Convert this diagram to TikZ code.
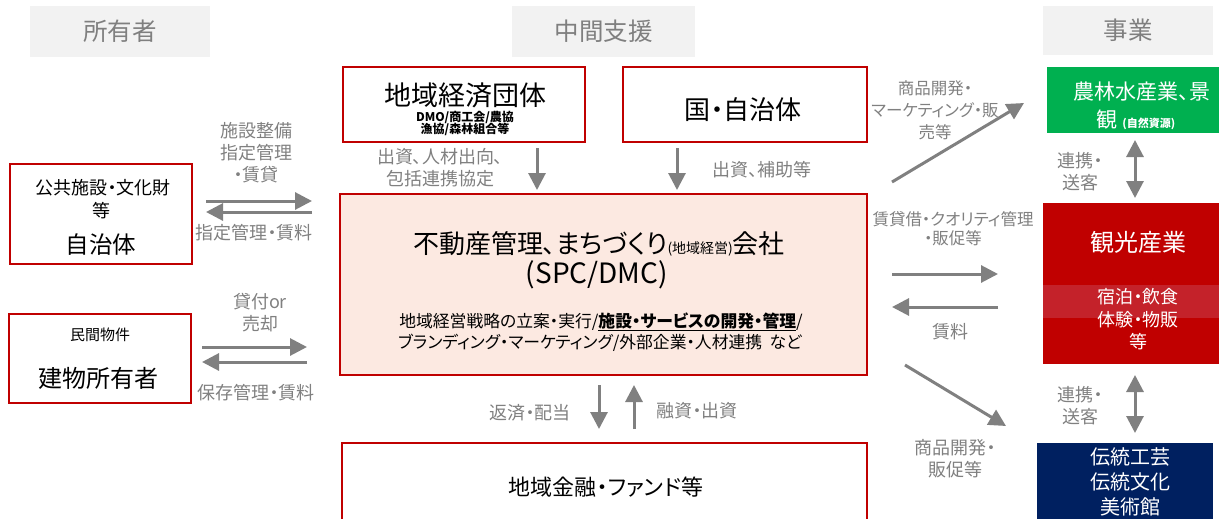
\documentclass[tikz,border=0pt]{standalone}
\usepackage{fontspec}
\setmainfont{Noto Sans CJK JP}[RawFeature=+palt]
\usetikzlibrary{arrows.meta}
\definecolor{hdrbg}{HTML}{F2F2F2}
\definecolor{hdrtx}{HTML}{7F7F7F}
\definecolor{bred}{HTML}{C00000}
\definecolor{agray}{HTML}{808080}
\definecolor{pinkfill}{HTML}{FCE9E1}
\definecolor{dgreen}{HTML}{00B050}
\definecolor{bandred}{RGB}{196,34,42}
\definecolor{navyblue}{HTML}{002060}
\newcommand\fsz[2]{\fontsize{#1}{#2}\selectfont}
\tikzset{
  hdr/.style={fill=hdrbg, text=hdrtx, font=\fsz{24.5}{28}, inner sep=0pt},
  rbox/.style={draw=bred, line width=1.8pt, fill=white, inner sep=0pt},
  txt/.style={inner sep=0pt, align=center, text=black},
  wtxt/.style={inner sep=0pt, align=center, text=white},
  lbl/.style={text=agray, font=\fsz{18}{22}, align=center, inner sep=0pt},
  arr/.style={draw=agray, line width=3pt, -{Triangle[length=17pt,width=17pt]}},
  dbl/.style={draw=agray, line width=3pt, {Triangle[length=17pt,width=17pt]}-{Triangle[length=17pt,width=17pt]}}
}
\begin{document}
\begin{tikzpicture}[x=1pt,y=-1pt]
\useasboundingbox (0,0) rectangle (1219,519);
% headers
\node[hdr, minimum width=180pt, minimum height=51pt] (h1) at (120,31.5) {所有者};
\node[hdr, minimum width=183pt, minimum height=51pt] (h2) at (603.5,31.5) {中間支援};
\node[hdr, minimum width=170pt, minimum height=49pt] (h3) at (1128,30.5) {事業};
% left boxes
\node[rbox, minimum width=182pt, minimum height=100pt] (kk) at (101,214) {};
\node[txt, font=\fsz{18}{22}] (kk1) at (103,188) {公共施設・文化財};
\node[txt, font=\fsz{18}{22}] (kk2) at (101,211) {等};
\node[txt, font=\fsz{23.5}{26}] (kk3) at (101,245) {自治体};
\node[rbox, minimum width=182pt, minimum height=89pt] (bm) at (100,358.5) {};
\node[txt, font=\fsz{15}{18}] (bm1) at (100,335) {民間物件};
\node[txt, font=\fsz{24}{28}] (bm2) at (98,378) {建物所有者};
% middle top boxes
\node[rbox, minimum width=242pt, minimum height=75pt] (kd) at (464,104.5) {};
\node[txt, font=\fsz{27}{30}] (kd1) at (465,95) {地域経済団体};
\node[txt, font=\fsz{12}{14}\bfseries] (kd2) at (465,117) {DMO/商工会/農協};
\node[txt, font=\fsz{12}{14}\bfseries] (kd3) at (465,129) {漁協/森林組合等};
\node[rbox, minimum width=244pt, minimum height=75pt] (kj) at (745,104.5) {};
\node[txt, font=\fsz{26}{30}] (kj1) at (743,110) {国・自治体};
% main box
\node[rbox, fill=pinkfill, minimum width=527pt, minimum height=181pt] (mc) at (603.5,284.5) {};
\node[txt, font=\fsz{26}{30}] (mc1) at (599,244) {不動産管理、まちづくり{\fsz{14}{16}(地域経営)}会社};
\node[txt, font=\fsz{28}{32}] (mc2) at (597,275) {(SPC/DMC)};
\node[txt, font=\fsz{16.8}{20}] (mc3) at (601,321.5) {地域経営戦略の立案・実行/\underline{\bfseries 施設・サービスの開発・管理}/};
\node[txt, font=\fsz{16.8}{20}] (mc4) at (600,342.5) {ブランディング・マーケティング/外部企業・人材連携\ \ など};
% bottom box
\node[rbox, minimum width=525pt, minimum height=80pt] (fd) at (604.5,483) {};
\node[txt, font=\fsz{22}{26}] (fd1) at (606,487) {地域金融・ファンド等};
% right boxes
\node[fill=dgreen, minimum width=172pt, minimum height=66pt, inner sep=0pt] (ag) at (1133,100) {};
\node[wtxt, font=\fsz{21}{24}] (ag1) at (1142,92) {農林水産業、景};
\node[wtxt, font=\fsz{21}{24}] (ag2) at (1136,120) {観 {\fsz{11}{13}\bfseries (自然資源)}};
\node[fill=bred, minimum width=176pt, minimum height=161pt, inner sep=0pt] (tr) at (1131,283.5) {};
\node[fill=bandred, minimum width=176pt, minimum height=33pt, inner sep=0pt] (band) at (1131,301.5) {};
\node[wtxt, font=\fsz{24}{28}] (tr1) at (1138,242) {観光産業};
\node[wtxt, font=\fsz{18}{22}] (tr2) at (1138,297) {宿泊・飲食};
\node[wtxt, font=\fsz{18}{22}] (tr3) at (1138,320) {体験・物販};
\node[wtxt, font=\fsz{18}{22}] (tr4) at (1138,342) {等};
\node[fill=navyblue, minimum width=176pt, minimum height=79pt, inner sep=0pt] (nv) at (1125,482.5) {};
\node[wtxt, font=\fsz{20}{24}] (nv1) at (1130,457) {伝統工芸};
\node[wtxt, font=\fsz{20}{24}] (nv2) at (1130,482) {伝統文化};
\node[wtxt, font=\fsz{20}{24}] (nv3) at (1130,507) {美術館};
% arrow end points
\coordinate (a1s) at (537,148); \coordinate (a1e) at (537,190);
\coordinate (a2s) at (677,148); \coordinate (a2e) at (677,190);
\coordinate (l1a) at (206,201); \coordinate (l1b) at (312,201);
\coordinate (l2a) at (312,212); \coordinate (l2b) at (206,212);
\coordinate (l3a) at (202,347); \coordinate (l3b) at (307,347);
\coordinate (l4a) at (307,362); \coordinate (l4b) at (202,362);
\coordinate (b1a) at (599,385); \coordinate (b1b) at (599,429);
\coordinate (b2a) at (634,429); \coordinate (b2b) at (634,385);
\coordinate (r1a) at (892,182); \coordinate (r1b) at (1024,103);
\coordinate (r2a) at (892,274); \coordinate (r2b) at (998,274);
\coordinate (r3a) at (998,307); \coordinate (r3b) at (892,307);
\coordinate (r4a) at (905,365); \coordinate (r4b) at (1006,426);
\coordinate (d1a) at (1135,140); \coordinate (d1b) at (1135,198);
\coordinate (d2a) at (1135,375); \coordinate (d2b) at (1135,433);
\draw[arr] (a1s) -- (a1e);
\draw[arr] (a2s) -- (a2e);
\draw[arr] (l1a) -- (l1b);
\draw[arr] (l2a) -- (l2b);
\draw[arr] (l3a) -- (l3b);
\draw[arr] (l4a) -- (l4b);
\draw[arr] (b1a) -- (b1b);
\draw[arr] (b2a) -- (b2b);
\draw[arr] (r1a) -- (r1b);
\draw[arr] (r2a) -- (r2b);
\draw[arr] (r3a) -- (r3b);
\draw[arr] (r4a) -- (r4b);
\draw[dbl] (d1a) -- (d1b);
\draw[dbl] (d2a) -- (d2b);
% labels
\node[lbl] (t1) at (440,167.5) {出資、人材出向、\\包括連携協定};
\node[lbl] (t2) at (762,170) {出資、補助等};
\node[lbl] (t3) at (256,153) {施設整備\\指定管理\\・賃貸};
\node[lbl] (t4) at (254,233) {指定管理・賃料};
\node[lbl] (t5) at (260,312.5) {貸付or\\売却};
\node[lbl] (t6) at (256,393) {保存管理・賃料};
\node[lbl] (t7) at (530,413) {返済・配当};
\node[lbl] (t8) at (697,411) {融資・出資};
\node[lbl, font=\fsz{16.5}{22}] (t9) at (935,110) {商品開発・\\マーケティング・販\\売等};
\node[lbl, font=\fsz{16.5}{19}] (t10) at (953,228.5) {賃貸借・クオリティ管理\\・販促等};
\node[lbl] (t11) at (950,332) {賃料};
\node[lbl] (t12) at (955,459) {商品開発・\\販促等};
\node[lbl] (t13) at (1080,172) {連携・\\送客};
\node[lbl] (t14) at (1080,406) {連携・\\送客};
\end{tikzpicture}
\end{document}
